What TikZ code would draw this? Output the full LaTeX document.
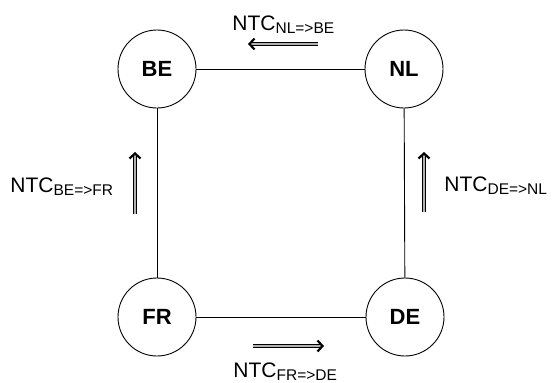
\documentclass[tikz,border=0pt]{standalone}
\usepackage{fontspec}
\setmainfont{Liberation Sans}
\usetikzlibrary{arrows.meta}
\newcommand{\ntcflow}[1]{NTC\raisebox{-3pt}{\fontsize{15.5}{15.5}\selectfont #1}}
\begin{document}
\begin{tikzpicture}[x=1pt, y=-1pt, line width=0.9pt,
    zone/.style={circle, draw, minimum size=78pt, inner sep=0pt, font=\fontsize{22}{22}\selectfont\bfseries},
    flow/.style={draw=black, double=gray!60, double distance=2.2pt, line width=1.1pt,
      -{Straight Barb[length=5pt, width=11pt, line width=2.2pt]}},
    flowlabel/.style={anchor=base west, inner sep=0pt, font=\fontsize{21}{21}\selectfont}]
  \useasboundingbox (0,0) rectangle (552,383);
  % 1. zones
  \node[zone] (BE) at (157,69) {BE};
  \node[zone] (NL) at (404,69) {NL};
  \node[zone] (FR) at (157,317) {FR};
  \node[zone] (DE) at (405,317) {DE};

  % 2. interconnections
  \draw (BE) -- (NL);
  \draw (NL) -- (DE);
  \draw (DE) -- (FR);
  \draw (FR) -- (BE);

  % 3. flow arrows
  \coordinate (nlbeA) at (318,44);  \coordinate (nlbeB) at (248,44);
  \coordinate (frdeA) at (253,346); \coordinate (frdeB) at (324,346);
  \coordinate (befrA) at (135,214); \coordinate (befrB) at (135,152);
  \coordinate (denlA) at (424,212); \coordinate (denlB) at (424,152);
  \draw[flow] (nlbeA) -- (nlbeB);
  \draw[flow] (frdeA) -- (frdeB);
  \draw[flow] (befrA) -- (befrB);
  \draw[flow] (denlA) -- (denlB);

  % 4. labels
  \node[flowlabel] (nlbe) at (232,30) {\ntcflow{NL=>BE}};
  \node[flowlabel] (frde) at (233,377) {\ntcflow{FR=>DE}};
  \node[flowlabel] (befr) at (10,192) {\ntcflow{BE=>FR}};
  \node[flowlabel] (denl) at (444,191) {\ntcflow{DE=>NL}};
\end{tikzpicture}
\end{document}
